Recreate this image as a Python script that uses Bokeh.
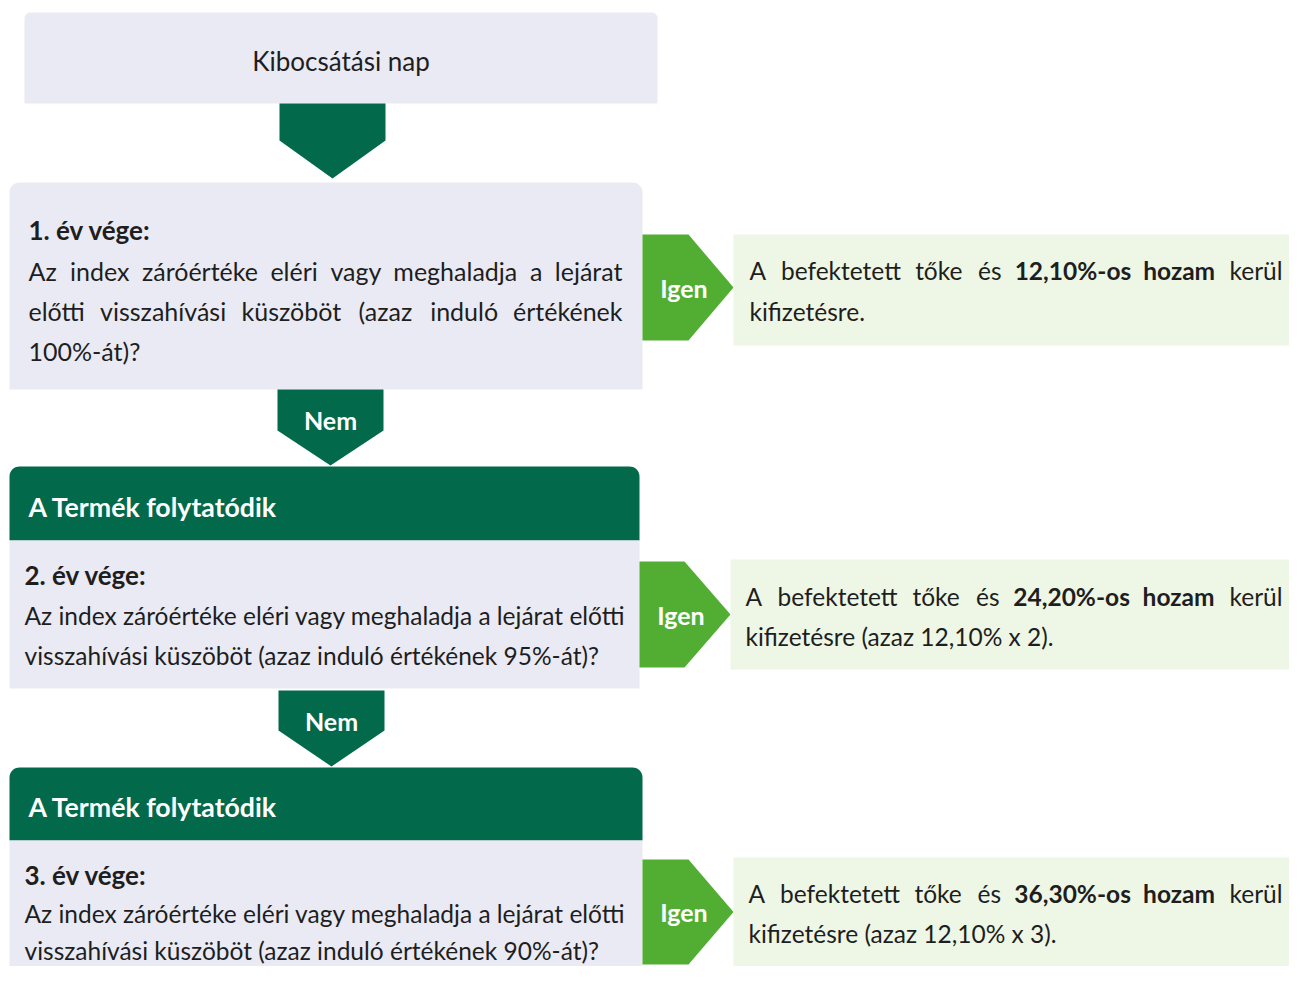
import unicodedata
import numpy as np
from bokeh.plotting import figure
from bokeh.models import Range1d
from bokeh.embed import file_html
from bokeh.resources import INLINE
from bokeh.core.properties import value

# ---------------- data ----------------
start_label = "Kibocsátási nap"
continue_label = "A Termék folytatódik"
yes_label = "Igen"
no_label = "Nem"
years = ["1. év vége:", "2. év vége:", "3. év vége:"]
thresholds = ["100%", "95%", "90%"]
coupon = "12,10%"
yields = ["12,10%", "24,20%", "36,30%"]
multipliers = ["", "2", "3"]

question_lines = [
    ["Az index záróértéke eléri vagy meghaladja a lejárat",
     "előtti visszahívási küszöböt (azaz induló értékének",
     f"{thresholds[0]}-át)?"],
    ["Az index záróértéke eléri vagy meghaladja a lejárat előtti",
     f"visszahívási küszöböt (azaz induló értékének {thresholds[1]}-át)?"],
    ["Az index záróértéke eléri vagy meghaladja a lejárat előtti",
     f"visszahívási küszöböt (azaz induló értékének {thresholds[2]}-át)?"],
]
question_justified = [True, False, False]

# ---------------- style ----------------
FONT = "Lato"
LAV = "#EAEAF4"
DARK = "#02694A"
GREEN = "#52AE32"
PALE = "#EEF6E5"
INK = "#1E1E1E"

W_FIG, H_FIG = 1289, 966
DY = -2

# ---------------- layout (pixel space, y down) ----------------
start_box = dict(x0=24, x1=657, y0=12, y1=103)
top_arrow = dict(x0=279, x1=385, y0=103, y1=140, tip=178)
steps = [
    dict(x0=9, x1=642, head=None, body=(182, 389), tx=28, tr=622, hy=231, ly=[272, 312, 352],
         igen=(642, 688, 733, 234, 340), res=(733, 1310, 234, 345), rl=749, rr=1282, ry=[272, 313],
         nem=(277, 383, 389, 430, 465)),
    dict(x0=9, x1=639, head=(466, 540), body=(540, 688), tx=24, tr=624, hy=576, ly=[617, 657],
         igen=(639, 684, 730, 561, 667), res=(730, 1310, 559, 669), rl=745, rr=1282, ry=[598, 638],
         nem=(278, 384, 690, 730, 766)),
    dict(x0=9, x1=642, head=(767, 840), body=(840, 1000), tx=24, tr=624, hy=876, ly=[915, 952],
         igen=(642, 688, 733, 859, 964), res=(733, 1310, 857, 967), rl=748, rr=1282, ry=[895, 935],
         nem=None),
]

BODY = 24.5
HEAD = 26
HEAD2 = 26.7

# approximate advance widths (em) used for word justification
CW = dict(a=.49, b=.55, c=.45, d=.55, e=.51, f=.31, g=.49, h=.55, i=.23, j=.23, k=.49, l=.23,
          m=.82, n=.55, o=.55, p=.55, q=.55, r=.36, s=.41, t=.34, u=.55, v=.5, w=.76, x=.48,
          y=.5, z=.45)
CW.update({"A": .68, "I": .28, "K": .65, "N": .75, "T": .56, " ": .19, "%": .77, "-": .34,
           "(": .29, ")": .29, "?": .42, ",": .22, ".": .22, ":": .24})
for d_ in "0123456789":
    CW[d_] = .58


def est(word, size, bold=False):
    w = 0
    for ch in word:
        base = unicodedata.normalize("NFD", ch)[0]
        w += CW.get(base, .55)
    return w * size * (0.98 if bold else 1.0)


p = figure(width=W_FIG, height=H_FIG, x_range=Range1d(0, W_FIG), y_range=Range1d(H_FIG, 0),
           output_backend="svg", toolbar_location=None, min_border=0,
           x_axis_location=None, y_axis_location=None, background_fill_color="white")
p.grid.visible = False
p.outline_line_color = None


def rtop(x0, x1, y0, y1, r=8):
    t = np.linspace(0, np.pi / 2, 10)
    xs = [x0] + list(x0 + r - r * np.cos(t)) + list(x1 - r + r * np.cos(t[::-1])) + [x1]
    ys = [y1] + list(y0 + r - r * np.sin(t)) + list(y0 + r - r * np.sin(t[::-1])) + [y1]
    return xs, ys


def down_arrow(x0, x1, y0, y1, tip):
    return [x0, x1, x1, (x0 + x1) / 2, x0], [y0, y0, y1, tip, y1]


def right_arrow(x0, x1, tip, y0, y1):
    return [x0, x1, tip, x1, x0], [y0, y0, (y0 + y1) / 2, y1, y1]


texts = dict(x=[], y=[], text=[], align=[], style=[], color=[], size=[])


def add_text(x, y, t, align="left", bold=False, color=INK, size=BODY):
    texts["x"].append(x)
    texts["y"].append(y + DY)
    texts["text"].append(t)
    texts["align"].append(align)
    texts["style"].append("bold" if bold else "normal")
    texts["color"].append(color)
    texts["size"].append(f"{size}px")


def justify(words, bolds, x0, x1, y, size=BODY):
    widths = [est(w, size, b) for w, b in zip(words, bolds)]
    gap = (x1 - x0 - sum(widths)) / (len(words) - 1)
    x = x0
    for i, (w, b, wd) in enumerate(zip(words, bolds, widths)):
        if i == 0:
            add_text(x0, y, w, "left", b, size=size)
        elif i == len(words) - 1:
            add_text(x1, y, w, "right", b, size=size)
        else:
            add_text(x + wd / 2, y, w, "center", b, size=size)
        x += wd + gap


# start box
xs, ys = rtop(start_box["x0"], start_box["x1"], start_box["y0"], start_box["y1"], 6)
p.patch(xs, ys, fill_color=LAV, line_color=None)
add_text((start_box["x0"] + start_box["x1"]) / 2, (start_box["y0"] + start_box["y1"]) / 2 + 5,
         start_label, "center", False, size=HEAD)
xs, ys = down_arrow(top_arrow["x0"], top_arrow["x1"], top_arrow["y0"], top_arrow["y1"], top_arrow["tip"])
p.patch(xs, ys, fill_color=DARK, line_color=None)

for i, s in enumerate(steps):
    if s["head"] is None:
        xs, ys = rtop(s["x0"], s["x1"], s["body"][0], s["body"][1], 10)
        p.patch(xs, ys, fill_color=LAV, line_color=None)
    else:
        xs, ys = rtop(s["x0"], s["x1"], s["head"][0], s["head"][1], 10)
        p.patch(xs, ys, fill_color=DARK, line_color=None)
        p.quad(left=s["x0"], right=s["x1"], top=s["body"][0], bottom=s["body"][1],
               fill_color=LAV, line_color=None)
        add_text(28, (s["head"][0] + s["head"][1]) / 2 + 5, continue_label, "left", True, "white", HEAD2)
    add_text(s["tx"], s["hy"], years[i], "left", True, size=HEAD)
    lines = question_lines[i]
    for j, (line, ly) in enumerate(zip(lines, s["ly"])):
        if question_justified[i] and j < len(lines) - 1:
            justify(line.split(" "), [False] * len(line.split(" ")), s["tx"], s["tr"], ly, 25)
        else:
            add_text(s["tx"], ly, line, size=25 if question_justified[i] else BODY)

    # yes arrow + result
    ix0, ix1, itip, iy0, iy1 = s["igen"]
    xs, ys = right_arrow(ix0, ix1, itip, iy0, iy1)
    p.patch(xs, ys, fill_color=GREEN, line_color=None)
    add_text((ix0 + itip) / 2 - 4, (iy0 + iy1) / 2 + 2, yes_label, "center", True, "white", 25)
    rx0, rx1, ry0, ry1 = s["res"]
    p.quad(left=rx0, right=rx1, top=ry0, bottom=ry1, fill_color=PALE, line_color=None)
    w1 = ["A", "befektetett", "tőke", "és", f"{yields[i]}-os", "hozam", "kerül"]
    b1 = [False, False, False, False, True, True, False]
    justify(w1, b1, s["rl"], s["rr"], s["ry"][0])
    l2 = "kifizetésre." if not multipliers[i] else f"kifizetésre (azaz {coupon} x {multipliers[i]})."
    add_text(s["rl"], s["ry"][1], l2)

    if s["nem"] is not None:
        nx0, nx1, ny0, ny1, ntip = s["nem"]
        xs, ys = down_arrow(nx0, nx1, ny0, ny1, ntip)
        p.patch(xs, ys, fill_color=DARK, line_color=None)
        add_text((nx0 + nx1) / 2, ny0 + 32, no_label, "center", True, "white", 25)

p.text(x="x", y="y", text="text", source=texts, text_align="align", text_font_style="style",
       text_color="color", text_font_size="size", text_baseline="middle",
       text_font=value(FONT))

open("out.html", "w").write(file_html(p, INLINE))
